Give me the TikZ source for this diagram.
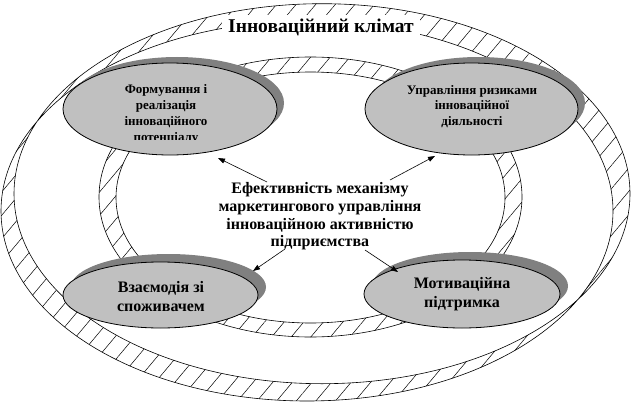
\documentclass[tikz,border=0pt]{standalone}
\usepackage{fontspec}
\setmainfont{Liberation Serif}
\usetikzlibrary{shapes.geometric,arrows.meta,patterns.meta}
\definecolor{ellfill}{HTML}{C0C0C0}
\definecolor{shgray}{HTML}{808080}
\tikzset{
  ring/.style={draw=black, line width=0.6pt, even odd rule,
    pattern={Lines[angle=50,distance=15pt,line width=0.5pt]}},
  bub/.style={ellipse, draw=black, line width=0.8pt, fill=ellfill, inner sep=0pt},
  shad/.style={fill=shgray},
  smallf/.style={align=center, font=\bfseries\fontsize{13}{15.8}\selectfont},
  bigf/.style={align=center, font=\bfseries\fontsize{16}{19}\selectfont},
  arr/.style={-{Triangle[length=7pt,width=5pt]}, line width=0.6pt},
}
\begin{document}
\begin{tikzpicture}[x=1pt,y=-1pt]
\useasboundingbox (0,0) rectangle (631,404);
% outer ring
\path[ring] (307,211) ellipse [x radius=306pt, y radius=190pt]
            (322,193.7) ellipse [x radius=308pt, y radius=190pt];
% inner ring
\path[ring] (310.5,197) ellipse [x radius=211.5pt, y radius=140pt]
            (310.5,197.5) ellipse [x radius=194.5pt, y radius=125.5pt];
% title
\node[fill=white, inner sep=0pt, minimum width=198pt, minimum height=24pt,
      font=\bfseries\fontsize{19.5}{22}\selectfont] (title) at (321,27) {Інноваційний клімат};
% shadows
\fill[shad] (177,103) ellipse [x radius=107pt, y radius=46pt];
\fill[shad] (478.5,103) ellipse [x radius=106.5pt, y radius=46pt];
\fill[shad] (168.5,287) ellipse [x radius=97.5pt, y radius=33pt];
\fill[shad] (470,286) ellipse [x radius=98pt, y radius=34pt];
% ellipses
\node[bub, minimum width=214pt, minimum height=92pt] (e1) at (170,109) {};
\node[bub, minimum width=213pt, minimum height=92pt] (e2) at (471.5,109) {};
\node[bub, minimum width=195pt, minimum height=66pt] (e3) at (160.5,295) {};
\node[bub, minimum width=196pt, minimum height=68pt] (e4) at (462,294) {};
% ellipse texts
\begin{scope}
  \clip (60,60) rectangle (285,139.5);
  \node[smallf] (t1) at (166,114.5)
    {Формування і\\реалізація\\інноваційного\\потенціалу};
\end{scope}
\node[smallf] (t2) at (472,106.5) {Управління ризиками\\інноваційної\\діяльності};
\node[bigf] (t3) at (161,297) {Взаємодія зі\\споживачем};
\node[bigf] (t4) at (462,294.5) {Мотиваційна\\підтримка};
% centre text
\node[align=center, font=\bfseries\fontsize{16}{17.7}\selectfont] (mid) at (320,216.5)
  {Ефективність механізму\\маркетингового управління\\інноваційною активністю\\підприємства};
% arrows
\coordinate (a1) at (267,182); \coordinate (h1) at (218,158);
\coordinate (a2) at (390,180); \coordinate (h2) at (435,156);
\coordinate (a3) at (285,249); \coordinate (h3) at (253,271);
\coordinate (a4) at (365,250); \coordinate (h4) at (398,272);
\draw[arr] (a1) -- (h1);
\draw[arr] (a2) -- (h2);
\draw[arr] (a3) -- (h3);
\draw[arr] (a4) -- (h4);
\end{tikzpicture}
\end{document}
